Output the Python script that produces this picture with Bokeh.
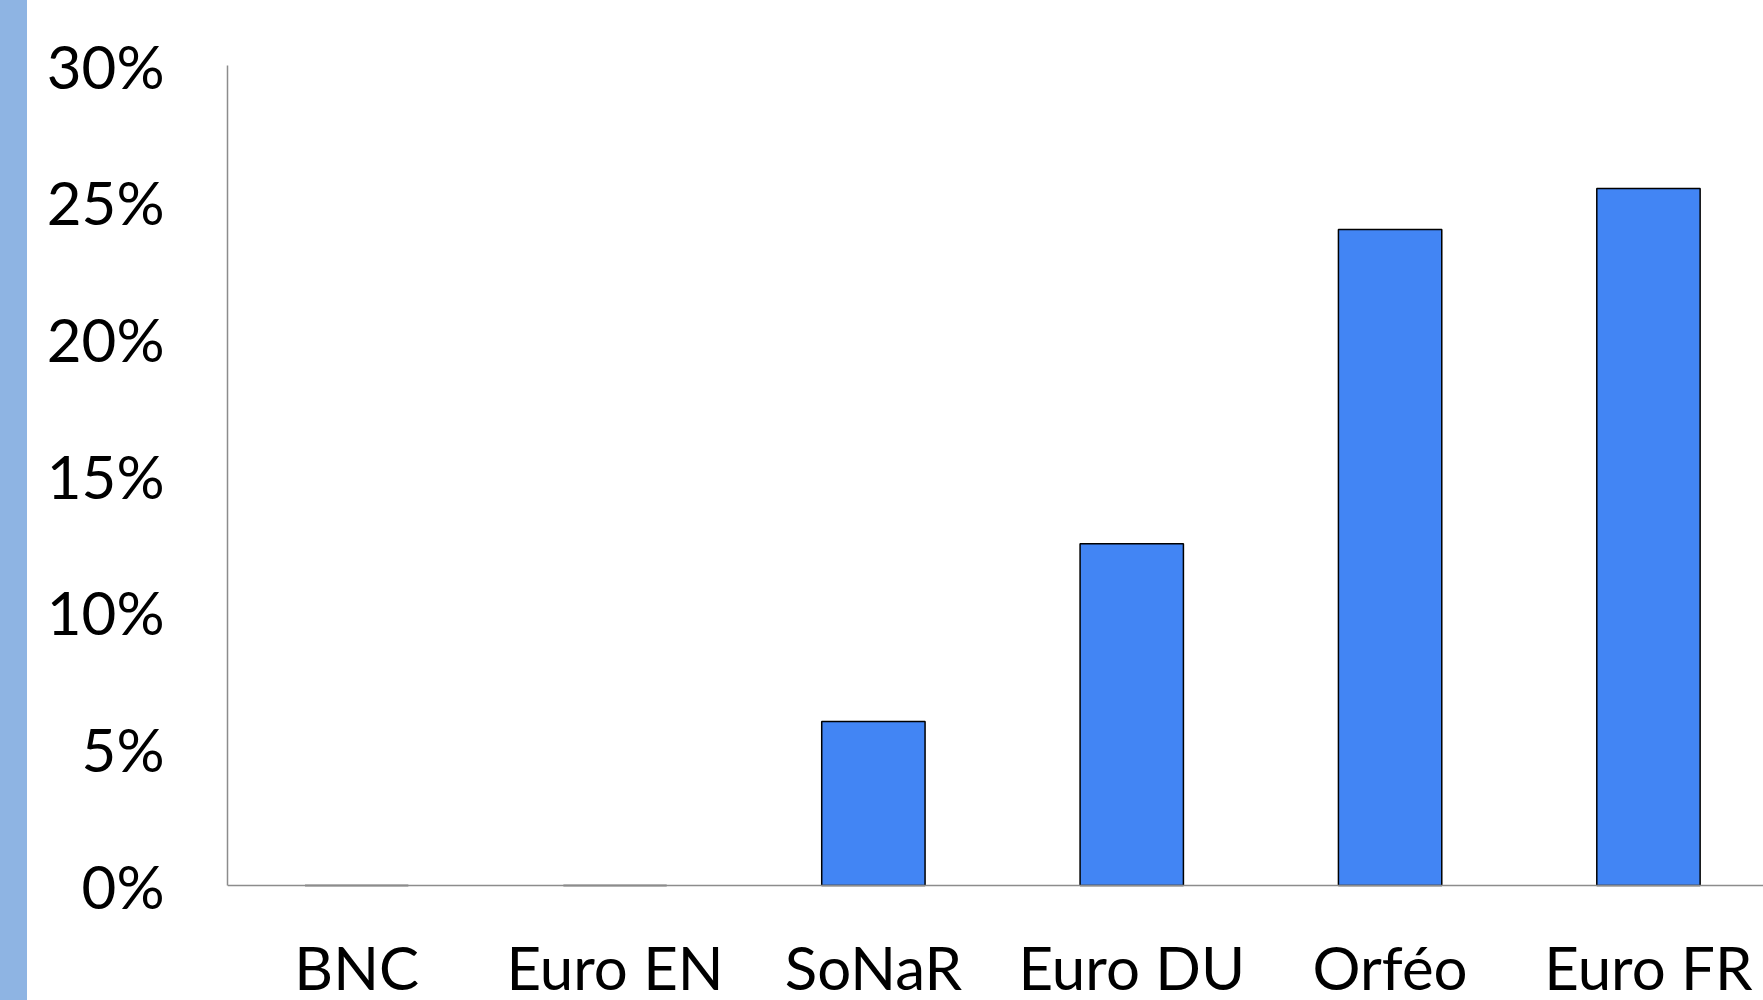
from bokeh.plotting import figure
from bokeh.models import Range1d, FixedTicker, PrintfTickFormatter, ColumnDataSource, Div, Span
from bokeh.layouts import row
from bokeh.core.properties import value
from bokeh.embed import file_html
from bokeh.resources import INLINE

categories = ["BNC", "Euro EN", "SoNaR", "Euro DU", "Orféo", "Euro FR"]
values = [0.0, 0.0, 6.0, 12.5, 24.0, 25.5]
y_ticks = [0, 5, 10, 15, 20, 25, 30]

positions = list(range(len(categories)))
src = ColumnDataSource(dict(x=positions, top=values, base=[0] * len(values), cat=categories))

FONT = "Lato"
AXIS_GREY = "#8c8c8c"
STRIP = "#8EB4E3"

# frame spans from 30% (y=65px) down to the bottom of the figure; 0% sits at y=885px
p = figure(width=1733, height=1000, output_backend="svg", toolbar_location=None,
           x_range=Range1d(-0.5, 5.453), y_range=Range1d(-4.207, 30),
           min_border_left=195, min_border_right=0, min_border_top=65, min_border_bottom=0)
p.vbar(x="x", top="top", width=0.4, source=src, fill_color="#4285F4",
       line_color="#000000", line_width=1.5)

p.xgrid.visible = False
p.ygrid.visible = False
p.outline_line_color = None
p.background_fill_color = "white"
p.border_fill_color = "white"
p.xaxis.visible = False

yax = p.yaxis[0]
yax.ticker = FixedTicker(ticks=y_ticks)
yax.formatter = PrintfTickFormatter(format="%d%%")
yax.bounds = (0, 30)
yax.axis_line_color = AXIS_GREY
yax.axis_line_width = 1.5
yax.major_tick_line_color = None
yax.minor_tick_line_color = None
yax.major_label_text_font = FONT
yax.major_label_text_font_size = "60px"
yax.major_label_text_color = "#000000"
yax.major_label_standoff = 57

# category axis baseline at 0%
p.add_layout(Span(location=0, dimension="width", line_color=AXIS_GREY, line_width=1.5))

# category labels below the baseline
p.text(x="x", y="base", text="cat", source=src, y_offset=81,
       text_align="center", text_baseline="alphabetic",
       text_font=value(FONT), text_font_size="60px", text_color="#000000")

strip = Div(width=22, height=1000,
            styles={"background-color": STRIP, "box-shadow": "-8px 0 0 8px " + STRIP})
layout = row(strip, p, spacing=0)

open("out.html", "w").write(file_html(layout, INLINE))
